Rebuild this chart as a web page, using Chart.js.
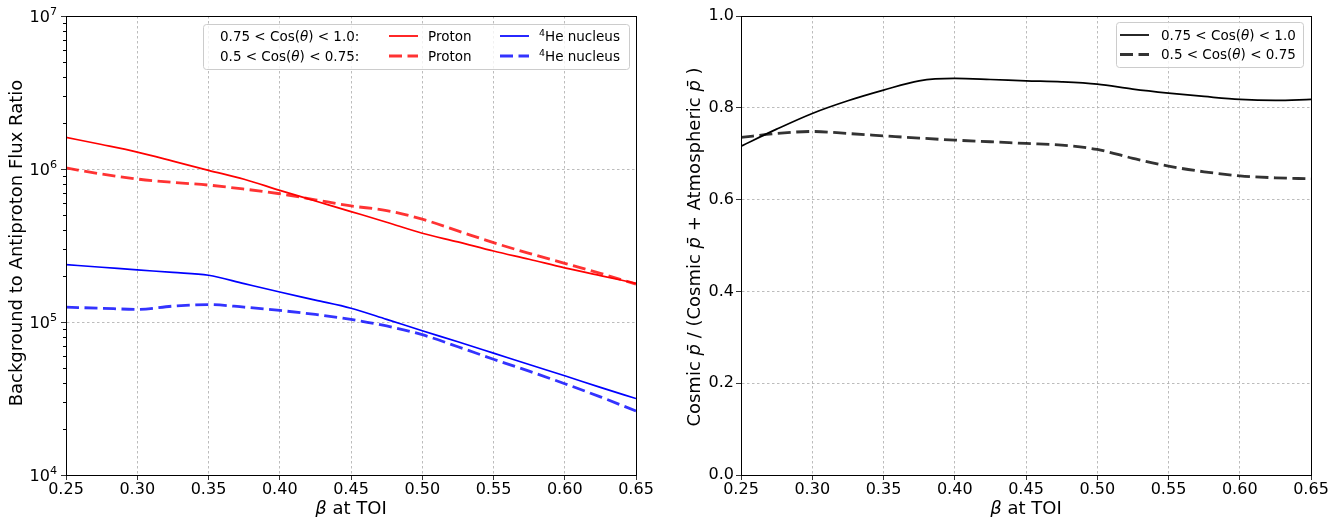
<!DOCTYPE html>
<html>
<head>
<meta charset="utf-8">
<script src="https://cdn.jsdelivr.net/npm/chart.js@4.4.1/dist/chart.umd.min.js"></script>
<style>
  html, body { margin: 0; padding: 0; background: #fff; }
  .panel { position: absolute; top: 0; height: 517px; }
  #left { left: 0; width: 670px; }
  #right { left: 670px; width: 671px; }
</style>
</head>
<body>
<div class="panel" id="left"><canvas id="fluxChart"></canvas></div>
<div class="panel" id="right"><canvas id="fractionChart"></canvas></div>
<script>
// beta at TOI sample points
const beta = [0.25, 0.275, 0.30, 0.325, 0.35, 0.375, 0.40, 0.425, 0.45,
              0.475, 0.50, 0.525, 0.55, 0.575, 0.60, 0.625, 0.65];

// Background to antiproton flux ratio
const protonForward = [1.61e6, 1.445e6, 1.29e6, 1.127e6, 9.8e5, 8.57e5, 7.25e5, 6.18e5, 5.27e5,
                       4.49e5, 3.8e5, 3.34e5, 2.91e5, 2.57e5, 2.26e5, 2.01e5, 1.79e5];
const protonSide = [1.016e6, 9.27e5, 8.6e5, 8.17e5, 7.85e5, 7.39e5, 6.89e5, 6.29e5, 5.74e5,
                    5.35e5, 4.70e5, 3.94e5, 3.30e5, 2.81e5, 2.42e5, 2.08e5, 1.77e5];
const heliumForward = [2.37e5, 2.28e5, 2.19e5, 2.11e5, 2.02e5, 1.78e5, 1.57e5, 1.39e5, 1.23e5,
                       1.04e5, 8.77e4, 7.43e4, 6.26e4, 5.27e4, 4.45e4, 3.74e4, 3.16e4];
const heliumSide = [1.25e5, 1.23e5, 1.21e5, 1.27e5, 1.30e5, 1.25e5, 1.19e5, 1.12e5, 1.04e5,
                    9.42e4, 8.26e4, 6.89e4, 5.71e4, 4.77e4, 3.95e4, 3.24e4, 2.62e4];

// Cosmic pbar fraction
const cosmicForward = [0.7165, 0.7535, 0.7877, 0.8153, 0.8385, 0.8588, 0.8639, 0.8617, 0.8588,
                       0.8566, 0.8516, 0.8407, 0.8320, 0.8247, 0.8182, 0.8160, 0.8182];
const cosmicSide = [0.7354, 0.744, 0.7484, 0.744, 0.739, 0.734, 0.7296, 0.726, 0.7223,
                    0.7187, 0.7092, 0.690, 0.6729, 0.6606, 0.6519, 0.6475, 0.6453];

// ticks and labels
const betaTicks = [0.25, 0.30, 0.35, 0.40, 0.45, 0.50, 0.55, 0.60, 0.65];
const fluxDecades = [4, 5, 6, 7];
const fractionTicks = [0, 0.2, 0.4, 0.6, 0.8, 1.0];
const angleLabels = ['0.75 < Cos(θ) < 1.0', '0.5 < Cos(θ) < 0.75'];
const speciesLabels = ['Proton', '⁴He nucleus'];
const superscripts = '⁰¹²³⁴⁵⁶⁷⁸⁹';

const FONT = '"DejaVu Sans", sans-serif';
const GRID = '#ababab';
const SPECIAL = /(θ|β|p\u0304|[⁰¹²³⁴⁵⁶⁷⁸⁹])/;

// minor tick positions of the log axis (2..9 x 10^n)
const minorFlux = [];
fluxDecades.slice(0, -1).forEach(p => {
    for (let k = 2; k <= 9; k++) minorFlux.push(k * Math.pow(10, p));
});

// draw text with math symbols in italic and real superscripts, like mathtext
function drawRich(ctx, text, size, x, y, align) {
    const parts = text.split(SPECIAL).filter(s => s.length).map(s => {
        const sup = superscripts.indexOf(s);
        if (sup >= 0) return { t: String(sup), font: (size * 0.7) + 'px ' + FONT, dy: -size * 0.4 };
        if (SPECIAL.test(s)) return { t: s, font: 'italic ' + size + 'px ' + FONT, dy: 0 };
        return { t: s, font: size + 'px ' + FONT, dy: 0 };
    });
    let w = 0;
    parts.forEach(p => { ctx.font = p.font; p.w = ctx.measureText(p.t).width; w += p.w; });
    let cx = x;
    if (align === 'center') cx = x - w / 2;
    if (align === 'right') cx = x - w;
    ctx.textAlign = 'left';
    ctx.textBaseline = 'alphabetic';
    parts.forEach(p => {
        ctx.font = p.font;
        ctx.fillText(p.t, cx, y + p.dy);
        cx += p.w;
    });
}

function drawLegend(chart, legend) {
    const ctx = chart.ctx;
    const [bx, by, bw, bh] = legend.box;
    ctx.save();
    ctx.beginPath();
    ctx.roundRect(bx + 0.5, by + 0.5, bw, bh, 3);
    ctx.fillStyle = 'rgba(255,255,255,0.8)';
    ctx.fill();
    ctx.strokeStyle = '#cccccc';
    ctx.lineWidth = 1;
    ctx.stroke();
    legend.items.forEach(it => {
        if (it.line !== undefined) {
            const ds = chart.data.datasets[it.line];
            ctx.strokeStyle = ds.borderColor;
            ctx.lineWidth = ds.borderWidth;
            ctx.setLineDash(ds.borderDash || []);
            ctx.beginPath();
            ctx.moveTo(it.x, it.y);
            ctx.lineTo(it.x + 29, it.y);
            ctx.stroke();
            ctx.setLineDash([]);
        } else {
            ctx.fillStyle = '#000';
            drawRich(ctx, it.text, 13.5, it.x, it.y + 4.9, 'left');
        }
    });
    ctx.restore();
}

// frame, minor ticks, log tick labels, axis titles and legend box
const decor = {
    id: 'decor',
    afterDraw(chart, args, opts) {
        const { ctx, chartArea: a } = chart;
        ctx.save();
        ctx.strokeStyle = '#000';
        ctx.lineWidth = 1;
        ctx.strokeRect(Math.round(a.left) + 0.5, Math.round(a.top) + 0.5,
                       Math.round(a.right - a.left), Math.round(a.bottom - a.top));
        ctx.fillStyle = '#000';
        if (opts.minor) {
            const ys = chart.scales.y;
            opts.minor.forEach(v => {
                const py = Math.round(ys.getPixelForValue(v)) + 0.5;
                ctx.beginPath();
                ctx.moveTo(a.left - 3, py);
                ctx.lineTo(a.left, py);
                ctx.stroke();
            });
            ys.ticks.forEach(t => {
                const py = ys.getPixelForValue(t.value);
                const p = Math.round(Math.log10(t.value));
                drawRich(ctx, '10' + superscripts[p], 16, a.left - 9, py + 5.8, 'right');
            });
        }
        drawRich(ctx, opts.xTitle, 18, (a.left + a.right) / 2, opts.xTitleBase, 'center');
        ctx.translate(opts.yTitleBase, opts.yTitleMid);
        ctx.rotate(-Math.PI / 2);
        drawRich(ctx, opts.yTitle, 18, 0, 0, 'center');
        ctx.restore();
        drawLegend(chart, opts.legend);
    }
};

function points(ys) {
    return beta.map((b, i) => ({ x: b, y: ys[i] }));
}

function lineSet(label, ys, color, dashed) {
    return {
        label: label,
        data: points(ys),
        borderColor: color,
        borderWidth: dashed ? 2.8 : 1.7,
        borderDash: dashed ? [13, 5.5] : [],
        pointRadius: 0,
        fill: false,
        cubicInterpolationMode: 'monotone'
    };
}

function betaAxis() {
    return {
        type: 'linear',
        min: 0.25,
        max: 0.65,
        afterBuildTicks: s => { s.ticks = betaTicks.map(v => ({ value: v })); },
        afterFit: s => { s.height = 42; },
        ticks: {
            callback: v => v.toFixed(2),
            font: { family: FONT, size: 16 },
            color: '#000',
            padding: 0,
            maxRotation: 0,
            autoSkip: false
        },
        grid: { color: GRID, lineWidth: 0.8, tickColor: '#000', tickLength: 5 },
        border: { color: '#000', width: 1, dash: [2.5, 2.5] }
    };
}

Chart.register(decor);

new Chart(document.getElementById('fluxChart'), {
    type: 'line',
    data: {
        datasets: [
            lineSet(angleLabels[0] + ' ' + speciesLabels[0], protonForward, '#ff0000', false),
            lineSet(angleLabels[1] + ' ' + speciesLabels[0], protonSide, 'rgba(255,0,0,0.8)', true),
            lineSet(angleLabels[0] + ' ' + speciesLabels[1], heliumForward, '#0000ff', false),
            lineSet(angleLabels[1] + ' ' + speciesLabels[1], heliumSide, 'rgba(0,0,255,0.8)', true)
        ]
    },
    options: {
        responsive: true,
        maintainAspectRatio: false,
        animation: false,
        devicePixelRatio: 1,
        layout: { padding: { top: 16, right: 34, bottom: 0, left: 0 } },
        scales: {
            x: betaAxis(),
            y: {
                type: 'logarithmic',
                min: 1e4,
                max: 1e7,
                afterBuildTicks: s => { s.ticks = fluxDecades.map(p => ({ value: Math.pow(10, p), major: true })); },
                afterFit: s => { s.width = 66; },
                ticks: { display: false, autoSkip: false },
                grid: { color: GRID, lineWidth: 0.8, tickColor: '#000', tickLength: 5 },
                border: { color: '#000', width: 1, dash: [2.5, 2.5] }
            }
        },
        plugins: {
            legend: { display: false },
            tooltip: { enabled: false },
            decor: {
                minor: minorFlux,
                xTitle: 'β at TOI',
                xTitleBase: 514,
                yTitle: 'Background to Antiproton Flux Ratio',
                yTitleBase: 21.5,
                yTitleMid: 243,
                legend: {
                    box: [203, 24, 426, 45],
                    items: [
                        { text: angleLabels[0] + ':', x: 220, y: 36 },
                        { text: angleLabels[1] + ':', x: 220, y: 56 },
                        { line: 0, x: 389, y: 36 },
                        { text: speciesLabels[0], x: 428, y: 36 },
                        { line: 2, x: 500, y: 36 },
                        { text: speciesLabels[1], x: 539, y: 36 },
                        { line: 1, x: 389, y: 56 },
                        { text: speciesLabels[0], x: 428, y: 56 },
                        { line: 3, x: 500, y: 56 },
                        { text: speciesLabels[1], x: 539, y: 56 }
                    ]
                }
            }
        }
    }
});

new Chart(document.getElementById('fractionChart'), {
    type: 'line',
    data: {
        datasets: [
            lineSet(angleLabels[0], cosmicForward, '#000000', false),
            lineSet(angleLabels[1], cosmicSide, 'rgba(0,0,0,0.8)', true)
        ]
    },
    options: {
        responsive: true,
        maintainAspectRatio: false,
        animation: false,
        devicePixelRatio: 1,
        layout: { padding: { top: 16, right: 30, bottom: 0, left: 0 } },
        scales: {
            x: betaAxis(),
            y: {
                type: 'linear',
                min: 0,
                max: 1,
                afterBuildTicks: s => { s.ticks = fractionTicks.map(v => ({ value: v })); },
                afterFit: s => { s.width = 71; },
                ticks: {
                    callback: v => v.toFixed(1),
                    font: { family: FONT, size: 16 },
                    color: '#000',
                    padding: 2,
                    autoSkip: false
                },
                grid: { color: GRID, lineWidth: 0.8, tickColor: '#000', tickLength: 5 },
                border: { color: '#000', width: 1, dash: [2.5, 2.5] }
            }
        },
        plugins: {
            legend: { display: false },
            tooltip: { enabled: false },
            decor: {
                xTitle: 'β at TOI',
                xTitleBase: 514,
                yTitle: 'Cosmic p\u0304 / (Cosmic p\u0304 + Atmospheric p\u0304 )',
                yTitleBase: 30,
                yTitleMid: 247,
                legend: {
                    box: [446, 22, 187, 45],
                    items: [
                        { line: 0, x: 450, y: 35 },
                        { text: angleLabels[0], x: 491, y: 35 },
                        { line: 1, x: 450, y: 54.5 },
                        { text: angleLabels[1], x: 491, y: 54.5 }
                    ]
                }
            }
        }
    }
});
</script>
</body>
</html>
